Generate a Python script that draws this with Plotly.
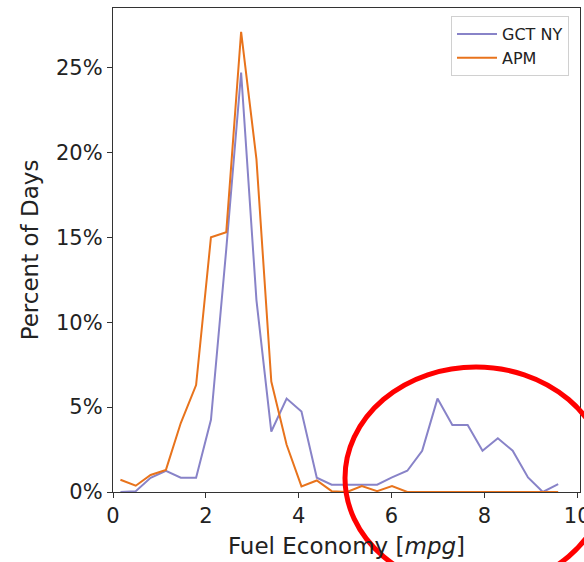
import plotly.graph_objects as go

# Bin centres (mpg)
x_mpg = [0.16, 0.49, 0.81, 1.14, 1.46, 1.79, 2.11, 2.44, 2.76, 3.09,
         3.41, 3.74, 4.06, 4.39, 4.71, 5.04, 5.36, 5.69, 6.01, 6.34,
         6.66, 6.99, 7.31, 7.64, 7.96, 8.29, 8.61, 8.94, 9.26, 9.59]

# Percent of days
gct_ny = [0.0, 0.05, 0.84, 1.25, 0.84, 0.84, 4.25, 14.3, 24.7, 11.3,
          3.56, 5.5, 4.74, 0.84, 0.43, 0.43, 0.43, 0.43, 0.86, 1.25,
          2.43, 5.5, 3.94, 3.94, 2.43, 3.16, 2.43, 0.86, 0.0, 0.47]
apm = [0.72, 0.37, 1.0, 1.3, 4.06, 6.3, 15.0, 15.3, 27.1, 19.6,
       6.5, 2.78, 0.33, 0.68, 0.05, 0.0, 0.35, 0.05, 0.35, 0.0,
       0.0, 0.0, 0.0, 0.0, 0.0, 0.0, 0.0, 0.0, 0.0, 0.0]

series_names = ["GCT NY", "APM"]
x_ticks = [0, 2, 4, 6, 8, 10]
x_ticktext = ["0", "2", "4", "6", "8", "10"]
y_ticks = [0, 5, 10, 15, 20, 25]
y_ticktext = ["0%", "5%", "10%", "15%", "20%", "25%"]

BLUE = "#8883c8"
ORANGE = "#e8731c"
AX = "#333333"
FONT = "DejaVu Sans"

fig = go.Figure()
fig.add_trace(go.Scatter(x=x_mpg, y=gct_ny, mode="lines", name=series_names[0],
                         line=dict(color=BLUE, width=2)))
fig.add_trace(go.Scatter(x=x_mpg, y=apm, mode="lines", name=series_names[1],
                         line=dict(color=ORANGE, width=2)))

L, R, T, B = 113, 4, 8, 70
W, H = 584, 562
pw, ph = W - L - R, H - T - B

def px2paper(px, py):
    return (px - L) / pw, (H - B - py) / ph

x0, y1 = px2paper(345, 367)
x1, y0 = px2paper(607, 589)
fig.add_shape(type="circle", xref="paper", yref="paper",
              x0=x0, x1=x1, y0=y0, y1=y1,
              line=dict(color="#ff0000", width=5), layer="above")

lx, ly = px2paper(451, 16)
fig.update_layout(
    width=W, height=H,
    margin=dict(l=L, r=R, t=T, b=B, pad=0),
    paper_bgcolor="white", plot_bgcolor="white",
    font=dict(family=FONT, size=21, color="#222222"),
    showlegend=True,
    legend=dict(x=lx, y=ly, xanchor="left", yanchor="top",
                bgcolor="rgba(255,255,255,0.8)", bordercolor="#d0d0d0", borderwidth=1,
                font=dict(size=16, family=FONT, color="#222222"),
                tracegroupgap=0, itemwidth=40),
    xaxis=dict(range=[0, 10.06], tickvals=x_ticks, ticktext=x_ticktext,
               ticks="outside", ticklen=5, tickcolor=AX, ticklabeloverflow="allow",
               tickfont=dict(size=21),
               showgrid=False, zeroline=False,
               showline=True, linecolor=AX, linewidth=1.2, mirror=True,
               title=dict(text="Fuel Economy [<i>mpg</i>]", standoff=10,
                          font=dict(size=23)),
               automargin=False),
    yaxis=dict(range=[0, 28.5], tickvals=y_ticks, ticktext=y_ticktext,
               ticks="outside", ticklen=5, tickcolor=AX, ticklabeloverflow="allow",
               tickfont=dict(size=21),
               showgrid=False, zeroline=False,
               showline=True, linecolor=AX, linewidth=1.2, mirror=True,
               title=dict(text="Percent of Days", standoff=10, font=dict(size=23)),
               automargin=False),
)

fig.write_html("out.html")
